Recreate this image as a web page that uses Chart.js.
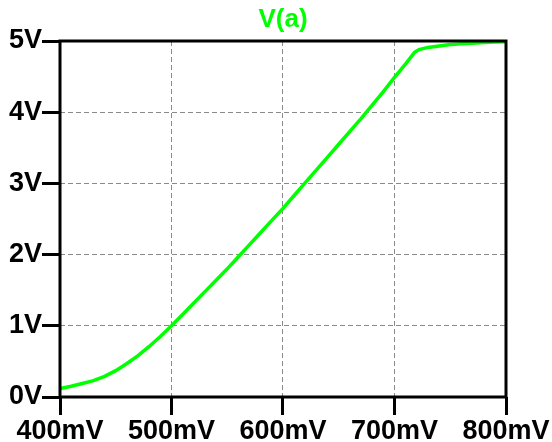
<!DOCTYPE html>
<html>
<head>
<meta charset="utf-8">
<script src="https://cdn.jsdelivr.net/npm/chart.js@4.4.0/dist/chart.umd.min.js"></script>
<style>
  html, body { margin: 0; padding: 0; background: #ffffff; }
  #wrap { width: 552px; height: 442px; }
</style>
</head>
<body>
<div id="wrap"><canvas id="chart" width="552" height="442"></canvas></div>
<script>
// V(in) en volts (axe x) et V(a) en volts (axe y)
const vIn = [0.40, 0.41, 0.42, 0.43, 0.44, 0.45, 0.46, 0.47, 0.48, 0.49,
             0.50, 0.51, 0.52, 0.53, 0.54, 0.55, 0.56, 0.57, 0.58, 0.59,
             0.60, 0.61, 0.62, 0.63, 0.64, 0.65, 0.66, 0.67, 0.68, 0.69,
             0.70, 0.71, 0.718, 0.722, 0.73, 0.74, 0.75, 0.76, 0.77, 0.78, 0.79, 0.80];
const vA = [0.12, 0.15, 0.19, 0.23, 0.29, 0.37, 0.47, 0.58, 0.71, 0.85,
            1.00, 1.16, 1.32, 1.48, 1.64, 1.80, 1.97, 2.14, 2.31, 2.48,
            2.65, 2.83, 3.01, 3.19, 3.37, 3.55, 3.73, 3.91, 4.10, 4.29,
            4.49, 4.68, 4.84, 4.88, 4.91, 4.93, 4.95, 4.96, 4.97, 4.98, 4.985, 4.99];

const xTickLabels = ['400mV', '500mV', '600mV', '700mV', '800mV'];
const yTickLabels = ['0V', '1V', '2V', '3V', '4V', '5V'];
const traceName = 'V(a)';

const fontFamily = "'Liberation Sans', Arial, sans-serif";
const labelFont = { family: fontFamily, size: 27, weight: 'bold' };

// cadre noir autour de la zone de tracé + titre centré sur la zone
const frame = {
    id: 'frame',
    afterDraw(chart) {
        const a = chart.chartArea;
        const c = chart.ctx;
        c.save();
        c.strokeStyle = '#000000';
        c.lineWidth = 3;
        c.strokeRect(a.left, a.top, a.right - a.left, a.bottom - a.top);
        c.fillStyle = '#00ff00';
        c.font = 'bold 26px ' + fontFamily;
        c.textAlign = 'center';
        c.textBaseline = 'middle';
        c.fillText(traceName, (a.left + a.right) / 2, 20);
        c.restore();
    }
};

new Chart(document.getElementById('chart').getContext('2d'), {
    type: 'line',
    data: {
        datasets: [{
            label: traceName,
            data: vIn.map((x, i) => ({ x: x, y: vA[i] })),
            borderColor: '#00ff00',
            borderWidth: 3.5,
            pointRadius: 0,
            tension: 0,
            fill: false
        }]
    },
    options: {
        responsive: false,
        animation: false,
        layout: { padding: { left: 0, right: 46, top: 41, bottom: 0 } },
        scales: {
            x: {
                type: 'linear',
                min: 0.4,
                max: 0.8,
                afterFit: s => { s.height = 45; },
                ticks: {
                    stepSize: 0.1,
                    color: '#000000',
                    font: labelFont,
                    padding: 0,
                    maxRotation: 0,
                    callback: (v, i) => xTickLabels[i]
                },
                grid: {
                    color: '#8a8a8a',
                    lineWidth: 1,
                    tickLength: 18,
                    tickColor: '#000000',
                    tickWidth: 3,
                    tickBorderDash: []
                },
                border: { display: false, dash: [5, 3] }
            },
            y: {
                min: 0,
                max: 5,
                afterFit: s => { s.width = 60; },
                ticks: {
                    stepSize: 1,
                    color: '#000000',
                    font: labelFont,
                    padding: 0,
                    callback: (v, i) => yTickLabels[i]
                },
                grid: {
                    color: '#8a8a8a',
                    lineWidth: 1,
                    tickLength: 18,
                    tickColor: '#000000',
                    tickWidth: 3,
                    tickBorderDash: []
                },
                border: { display: false, dash: [5, 3] }
            }
        },
        plugins: {
            legend: { display: false },
            tooltip: { enabled: false },
            title: { display: false }
        }
    },
    plugins: [frame]
});
</script>
</body>
</html>
